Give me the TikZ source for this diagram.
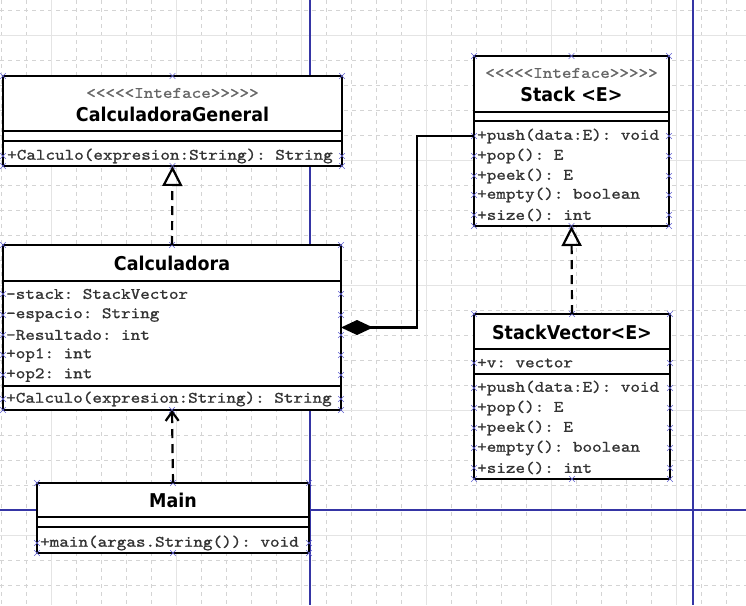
\documentclass[tikz,border=0pt]{standalone}
\usepackage{fontspec}
\setsansfont{DejaVu Sans}[FakeStretch=0.92]
\setmonofont{lmmono10-regular}[Extension=.otf, FakeStretch=1.14, FakeBold=1]
\usetikzlibrary{arrows.meta,positioning,shapes.misc}
\definecolor{gridgray}{HTML}{D4D4D4}
\definecolor{gridlight}{HTML}{E4E4E4}
\definecolor{pageblue}{HTML}{3535A5}
\definecolor{handleblue}{HTML}{6464D2}
\tikzset{
    x=1pt, y=-1pt,
    umlbox/.style={draw, line width=2.4pt, fill=white, anchor=north west, inner sep=0pt, outer sep=0pt},
    divider/.style={line width=2.2pt},
    member/.style={anchor=west, inner sep=0pt, text=black!80, font=\ttfamily\fontsize{16}{18}\selectfont},
    stereo/.style={inner sep=0pt, text=black!60, font=\ttfamily\fontsize{16}{18}\selectfont},
    classname/.style={inner sep=0pt, font=\sffamily\bfseries\fontsize{19}{22}\selectfont},
    hdl/.style={cross out, draw=handleblue, line width=0.6pt, minimum size=5pt, inner sep=0pt},
    realize/.style={line width=2.2pt, dash pattern=on 9pt off 6pt, -{Triangle[open, length=20pt, width=20pt]}},
    depend/.style={line width=2.2pt, dash pattern=on 9pt off 6pt, -{Straight Barb[length=9pt, width=13pt]}},
    compose/.style={line width=2.2pt, {Diamond[length=32pt, width=15pt]}-},
    minor/.style={gridgray, line width=0.6pt, dash pattern=on 4pt off 4pt},
    major/.style={gridlight, line width=0.8pt},
    page/.style={pageblue, line width=1.2pt}
}

\begin{document}
\begin{tikzpicture}
  \fill[white] (0,0) rectangle (746,605);
  \useasboundingbox (0,0) rectangle (746,605);

  % grid and page breaks
  \foreach \gx in {1,26,...,726} \draw[minor] (\gx,0) -- (\gx,605);
  \foreach \gy in {10,35,...,585} \draw[minor] (0,\gy) -- (746,\gy);
  \foreach \gx in {51,176,...,676} \draw[major] (\gx,0) -- (\gx,605);
  \foreach \gy in {35,160,...,535} \draw[major] (0,\gy) -- (746,\gy);
  \draw[page] (310,0) -- (310,605);
  \draw[page] (693,0) -- (693,605);
  \draw[page] (0,510) -- (746,510);

  % CalculadoraGeneral
  \node[umlbox, minimum width=339pt, minimum height=90pt] (gen) at (3,76) {};
  \draw[divider] ([yshift=-55pt]gen.north west) -- ([yshift=-55pt]gen.north east);
  \draw[divider] ([yshift=-65pt]gen.north west) -- ([yshift=-65pt]gen.north east);
  \node[stereo] (gen st) at (172.5,93) {<<<<<Inteface>>>>>};
  \node[classname] (gen name) at (172.5,114) {CalculadoraGeneral};
  \foreach \ty/\txt [count=\i] in {156/+Calculo(expresion:String): String}{
    \node[member] (gen m\i) at (7,\ty) {\txt};
    \node[hdl] (gen l\i) at (gen.west |- gen m\i.west) {};
    \node[hdl] (gen r\i) at (gen.east |- gen m\i.east) {};
  }

  % Calculadora
  \node[umlbox, minimum width=338pt, minimum height=165pt] (calc) at (3,245) {};
  \draw[divider] ([yshift=-36pt]calc.north west) -- ([yshift=-36pt]calc.north east);
  \draw[divider] ([yshift=-141pt]calc.north west) -- ([yshift=-141pt]calc.north east);
  \node[classname] (calc name) at (172,263) {Calculadora};
  \foreach \ty/\txt [count=\i] in {294/-stack: StackVector,315/-espacio: String,
      335/-Resultado: int,355/+op1: int,375/+op2: int,399/+Calculo(expresion:String): String}{
    \node[member] (calc m\i) at (6,\ty) {\txt};
    \node[hdl] (calc l\i) at (calc.west |- calc m\i.west) {};
    \node[hdl] (calc r\i) at (calc.east |- calc m\i.east) {};
  }

  % Main
  \node[umlbox, minimum width=272pt, minimum height=70pt] (main) at (37,483) {};
  \draw[divider] ([yshift=-34pt]main.north west) -- ([yshift=-34pt]main.north east);
  \draw[divider] ([yshift=-44pt]main.north west) -- ([yshift=-44pt]main.north east);
  \node[classname] (main name) at (173,500) {Main};
  \foreach \ty/\txt [count=\i] in {543/+main(argas.String()): void}{
    \node[member] (main m\i) at (40,\ty) {\txt};
    \node[hdl] (main l\i) at (main.west |- main m\i.west) {};
    \node[hdl] (main r\i) at (main.east |- main m\i.east) {};
  }

  % Stack <E>
  \node[umlbox, minimum width=195pt, minimum height=170pt] (stack) at (474,56) {};
  \draw[divider] ([yshift=-56pt]stack.north west) -- ([yshift=-56pt]stack.north east);
  \draw[divider] ([yshift=-65pt]stack.north west) -- ([yshift=-65pt]stack.north east);
  \node[stereo] (stack st) at (571.5,73) {<<<<<Inteface>>>>>};
  \node[classname] (stack name) at (571.5,94) {Stack <E>};
  \foreach \ty/\txt [count=\i] in {136/+push(data:E): void,156/+pop(): E,176/+peek(): E,
      195/+empty(): boolean,215/+size(): int}{
    \node[member] (stack m\i) at (477,\ty) {\txt};
    \node[hdl] (stack l\i) at (stack.west |- stack m\i.west) {};
    \node[hdl] (stack r\i) at (stack.east |- stack m\i.east) {};
  }

  % StackVector<E>
  \node[umlbox, minimum width=196pt, minimum height=165pt] (svec) at (474,314) {};
  \draw[divider] ([yshift=-35pt]svec.north west) -- ([yshift=-35pt]svec.north east);
  \draw[divider] ([yshift=-60pt]svec.north west) -- ([yshift=-60pt]svec.north east);
  \node[classname] (svec name) at (572,332) {StackVector<E>};
  \foreach \ty/\txt [count=\i] in {363/+v: vector,388/+push(data:E): void,408/+pop(): E,
      428/+peek(): E,448/+empty(): boolean,468/+size(): int}{
    \node[member] (svec m\i) at (477,\ty) {\txt};
    \node[hdl] (svec l\i) at (svec.west |- svec m\i.west) {};
    \node[hdl] (svec r\i) at (svec.east |- svec m\i.east) {};
  }

  % handles on the corners
  \foreach \b in {gen,calc,main,stack,svec}
    \foreach \a [count=\i] in {north west,north,north east,south west,south,south east}
      \node[hdl] (\b h\i) at (\b.\a) {};

  % relations
  \draw[realize] (calc.north) -- (gen.south);
  \draw[realize] (svec.north) -- (stack.south);
  \draw[depend] (main.north) -- (calc.south);
  \draw[compose] (calc.east) -- ++(76,0) |- (stack.west |- stack m1.west);
\end{tikzpicture}
\end{document}
